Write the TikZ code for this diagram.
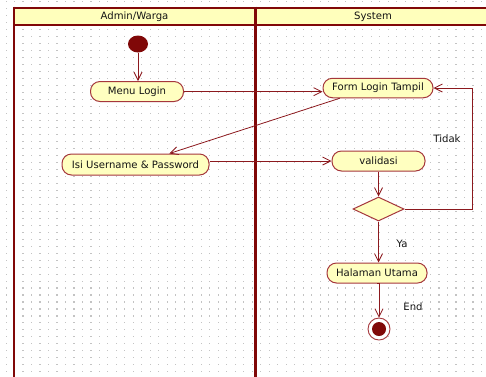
\documentclass[tikz,border=0pt]{standalone}
\usepackage{fontspec}
\setmainfont{DejaVu Sans}
\usetikzlibrary{arrows.meta,shapes.geometric}
\definecolor{lane}{RGB}{128,8,8}
\definecolor{hdrfill}{RGB}{255,255,188}
\definecolor{nodefill}{RGB}{255,255,192}
\definecolor{nodeborder}{RGB}{165,55,60}
\definecolor{conn}{RGB}{140,25,30}
\definecolor{dotc}{RGB}{195,195,195}
\definecolor{txt}{RGB}{20,20,20}
\tikzset{
  actbox/.style={rectangle, rounded corners=9.5pt, draw=nodeborder, fill=nodefill, line width=1pt,
    minimum height=20pt, inner sep=0pt, text=txt, font=\fontsize{10.1}{12}\selectfont},
  decbox/.style={diamond, draw=nodeborder, fill=nodefill, line width=1pt, minimum width=51pt,
    minimum height=24pt, inner sep=0pt},
  flow/.style={draw=conn, line width=0.8pt, -{Straight Barb[length=8pt,width=8pt,line width=0.8pt]}},
  lbl/.style={text=txt, font=\fontsize{10.1}{12}\selectfont, inner sep=0pt},
  laneline/.style={draw=lane, line width=2pt},
}
\begin{document}
\begin{tikzpicture}[x=1pt,y=-1pt]
\useasboundingbox (0,0) rectangle (486,376);
\fill[white] (0,0) rectangle (486,376);
% dot grid
\foreach \i in {0,...,56}{
  \foreach \j in {0,...,53}{
    \fill[dotc] ({5.5+8.49*\i},{1.3+6.98*\j}) rectangle ++(1.1,1.1);
  }
}
% swimlanes
\fill[hdrfill] (14,7.7) rectangle (487,25);
\draw[laneline] (14,7.7) -- (487,7.7);
\draw[laneline] (14,25) -- (487,25);
\draw[laneline] (14,6.7) -- (14,377);
\draw[draw=lane, line width=3pt] (255,6.7) -- (255,377);
\node[lbl] (h1) at (134.5,16.5) {Admin/Warga};
\node[lbl] (h2) at (373,16.5) {System};
% nodes
\node[ellipse, fill=lane, minimum width=20pt, minimum height=17pt, inner sep=0pt] (start) at (138,44) {};
\node[actbox, minimum width=93pt] (menu) at (137,91.5) {Menu Login};
\node[actbox, minimum width=147pt, minimum height=21pt] (isi) at (135.5,164.5) {Isi Username \& Password};
\node[actbox, minimum width=110pt, minimum height=19.5pt] (form) at (378,88) {Form Login Tampil};
\node[actbox, minimum width=93pt] (valid) at (378.5,161) {validasi};
\node[decbox] (dec) at (378.5,209) {};
\node[actbox, minimum width=100pt] (hal) at (377,273) {Halaman Utama};
\node[circle, draw=nodeborder, fill=white, line width=0.9pt, minimum size=22pt, inner sep=0pt] (end) at (379,329) {};
\node[circle, fill=lane, minimum size=14pt, inner sep=0pt] (endin) at (379,329) {};
\coordinate (loopc) at (472,209);
% connectors
\draw[flow] (start) -- (start |- menu.north);
\draw[flow] (menu.east |- 0,91.7) -- (form.west |- 0,91.7);
\draw[flow] (form.195) -- (isi.18);
\draw[flow] (isi.east |- valid.west) -- (valid.west);
\draw[flow] (valid) -- (dec.north);
\draw[flow] (dec.east) -- (loopc) |- (form.east);
\draw[flow] (dec.south) -- (dec.south |- hal.north);
\draw[flow] (hal.south) -- (hal.south -| end.north) -- (end.north);
% labels
\node[lbl] (tidak) at (447,139) {Tidak};
\node[lbl] (ya) at (402,244) {Ya};
\node[lbl] (endl) at (413,307) {End};
\end{tikzpicture}
\end{document}
